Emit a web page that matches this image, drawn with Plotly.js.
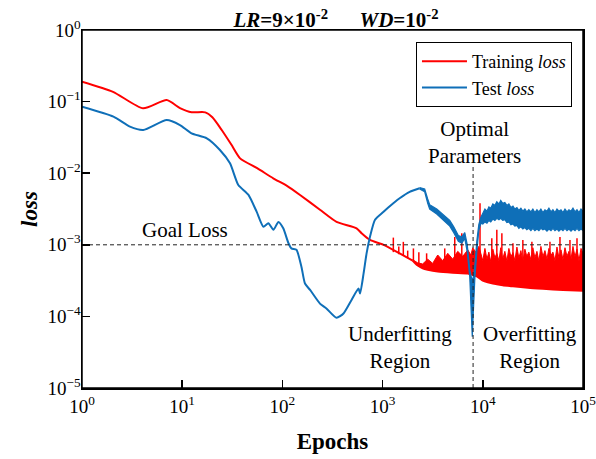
<!DOCTYPE html>
<html>
<head>
<meta charset="utf-8">
<script src="https://cdn.plot.ly/plotly-3.0.1.min.js"></script>
<style>html,body{margin:0;padding:0;background:#fff;}</style>
</head>
<body>
<div id="chart" style="width:596px;height:459px;"></div>
<script>
// ---- Training loss: smooth early part ----
const trainEpochs = [1, 2.04, 4.07, 7.0, 9.5, 12.4, 17, 20, 24.8, 30.9, 37.8, 56, 81, 112, 150, 237, 347, 550, 617, 748, 1023, 1479, 1995];
const trainLoss = [0.190, 0.137, 0.0805, 0.105, 0.0813, 0.0710, 0.0708, 0.0603, 0.0401, 0.0251, 0.0161, 0.01175, 0.00849, 0.00661, 0.00497, 0.00309, 0.00209, 0.00170, 0.00145, 0.00117, 0.00100, 0.000759, 0.000603];

// ---- Training loss: oscillating band (lower floor and upper edge) ----
const trainFloorEpochs = [1995, 2240, 2510, 2820, 3550, 5010, 7080, 7940, 8710, 9330, 10000, 11200, 12600, 15800, 20000, 28200, 39800, 63100, 100000];
const trainFloorLoss = [6.03e-4, 5.13e-4, 4.68e-4, 4.47e-4, 4.22e-4, 4.07e-4, 3.98e-4, 3.80e-4, 3.63e-4, 3.39e-4, 3.16e-4, 2.99e-4, 2.88e-4, 2.72e-4, 2.63e-4, 2.51e-4, 2.43e-4, 2.34e-4, 2.29e-4];

const trainCeilEarlyEpochs = [1995, 2240, 2510, 2820, 3160, 3550, 3980, 4470, 5010, 5620, 6310, 7080, 7590, 7940, 8510, 9120, 9550];
const trainCeilEarlyLoss = [6.2e-4, 5.6e-4, 5.4e-4, 6.3e-4, 5.5e-4, 7.2e-4, 6.0e-4, 7.6e-4, 6.3e-4, 8.1e-4, 6.9e-4, 8.5e-4, 7.2e-4, 9.1e-4, 7.9e-4, 9.5e-4, 7.6e-4];

// late epochs shared by both late-stage bands
const lateEpochs = [10000, 10500, 11000, 11500, 12000, 12600, 13200, 13800, 14500, 15100, 15800, 16600, 17400, 18200, 19100, 20000, 20900, 21900, 22900, 24000, 25100, 26300, 27500, 28800, 30200, 31600, 33100, 34700, 36300, 38000, 39800, 41700, 43700, 45700, 47900, 50100, 52500, 55000, 57500, 60300, 63100, 66100, 69200, 72400, 75900, 79400, 83200, 87100, 91200, 95500, 100000];

const trainCeilLateLoss = [6.0e-4, 8.9e-4, 6.3e-4, 7.9e-4, 5.8e-4, 8.7e-4, 6.6e-4, 7.6e-4, 6.0e-4, 9.1e-4, 6.3e-4, 8.1e-4, 5.9e-4, 8.9e-4, 6.8e-4, 7.8e-4, 6.0e-4, 9.3e-4, 6.5e-4, 8.3e-4, 5.8e-4, 8.7e-4, 6.9e-4, 7.9e-4, 6.2e-4, 9.1e-4, 6.6e-4, 8.1e-4, 5.9e-4, 9.5e-4, 6.8e-4, 8.3e-4, 6.3e-4, 8.9e-4, 7.1e-4, 7.9e-4, 6.0e-4, 9.3e-4, 6.6e-4, 8.5e-4, 6.2e-4, 9.1e-4, 6.9e-4, 8.1e-4, 6.3e-4, 9.5e-4, 6.8e-4, 8.7e-4, 6.0e-4, 8.9e-4, 7.6e-4];

// isolated training-loss spikes
const spikeEpochs = [1280, 1450, 1610, 1780, 2030, 2300, 2750, 4170, 5250, 6170, 9380, 12300, 13800, 15500, 20000, 25100, 30900, 46800, 58900, 74100, 87100];
const spikeBase = [7.9e-4, 7.4e-4, 7.0e-4, 6.5e-4, 5.9e-4, 5.0e-4, 4.5e-4, 4.1e-4, 4.05e-4, 4.0e-4, 3.4e-4, 2.9e-4, 2.85e-4, 2.8e-4, 2.65e-4, 2.6e-4, 2.5e-4, 2.4e-4, 2.4e-4, 2.35e-4, 2.3e-4];
const spikeTop = [1.26e-3, 9.5e-4, 1.10e-3, 8.3e-4, 8.9e-4, 7.9e-4, 7.6e-4, 8.9e-4, 1.29e-3, 1.45e-3, 3.8e-3, 1.23e-3, 1.62e-3, 1.45e-3, 1.05e-3, 1.17e-3, 1.10e-3, 1.10e-3, 1.29e-3, 1.17e-3, 1.23e-3];

// ---- Test loss: smooth early part ----
const testEpochs = [1, 2.06, 3.01, 4.09, 7.0, 9.5, 12.4, 17.6, 23.8, 30.0, 36.3, 45.7, 55.3, 64.6, 72.4, 81.3, 91.2, 102, 115, 123, 138, 155, 168, 189, 237, 275, 347, 407, 490, 575, 596, 646, 692, 748, 840, 1016, 1279, 1479, 1862, 2340];
const testLoss = [0.0849, 0.0617, 0.0447, 0.0401, 0.0553, 0.0471, 0.0361, 0.0307, 0.0211, 0.01374, 0.00684, 0.00501, 0.00290, 0.00179, 0.00200, 0.00162, 0.00209, 0.00170, 0.00105, 0.000891, 0.000851, 0.000490, 0.000288, 0.000234, 0.000151, 0.000129, 0.0000955, 0.000110, 0.000170, 0.000245, 0.000209, 0.000398, 0.000759, 0.00129, 0.00224, 0.00288, 0.00380, 0.00447, 0.00550, 0.00617];

// ---- Test loss: oscillating band ----
const testBandEarlyEpochs = [2340, 2630, 2820, 2950, 3470, 4170, 4680, 5130, 5700, 6170, 6610, 7000, 7410, 7670, 7850, 8040, 8320, 8710, 9120, 9550];
const testHighEarly = [6.31e-3, 6.03e-3, 4.37e-3, 3.63e-3, 3.16e-3, 2.57e-3, 2.19e-3, 1.78e-3, 1.35e-3, 1.29e-3, 1.48e-3, 1.0e-3, 4.47e-4, 3.55e-4, 3.16e-4, 3.55e-4, 5.0e-4, 1.12e-3, 1.91e-3, 2.40e-3];
const testLowEarly = [6.03e-3, 5.50e-3, 3.80e-3, 3.16e-3, 2.69e-3, 2.14e-3, 1.82e-3, 1.48e-3, 1.12e-3, 1.05e-3, 1.23e-3, 7.9e-4, 3.55e-4, 1.12e-4, 5.2e-5, 1.12e-4, 3.31e-4, 7.9e-4, 1.58e-3, 2.0e-3];
const testHighLate = [2.75e-3, 3.16e-3, 2.95e-3, 3.39e-3, 3.24e-3, 3.72e-3, 3.55e-3, 3.98e-3, 3.72e-3, 4.17e-3, 3.80e-3, 3.89e-3, 3.55e-3, 3.72e-3, 3.31e-3, 3.47e-3, 3.16e-3, 3.31e-3, 3.02e-3, 3.24e-3, 2.95e-3, 3.16e-3, 2.88e-3, 3.09e-3, 2.88e-3, 3.16e-3, 2.82e-3, 3.09e-3, 2.88e-3, 3.16e-3, 2.82e-3, 3.09e-3, 2.95e-3, 3.24e-3, 2.88e-3, 3.09e-3, 2.82e-3, 3.16e-3, 2.95e-3, 3.09e-3, 2.82e-3, 3.16e-3, 2.88e-3, 3.09e-3, 2.95e-3, 3.24e-3, 2.88e-3, 3.09e-3, 2.82e-3, 3.16e-3, 2.95e-3];
const testLowLate = [1.95e-3, 2.09e-3, 2.00e-3, 2.19e-3, 2.09e-3, 2.29e-3, 2.19e-3, 2.34e-3, 2.24e-3, 2.34e-3, 2.19e-3, 2.24e-3, 2.04e-3, 2.09e-3, 1.91e-3, 1.95e-3, 1.82e-3, 1.86e-3, 1.70e-3, 1.78e-3, 1.66e-3, 1.74e-3, 1.62e-3, 1.70e-3, 1.58e-3, 1.70e-3, 1.58e-3, 1.66e-3, 1.58e-3, 1.70e-3, 1.62e-3, 1.66e-3, 1.55e-3, 1.66e-3, 1.58e-3, 1.70e-3, 1.58e-3, 1.66e-3, 1.55e-3, 1.66e-3, 1.58e-3, 1.70e-3, 1.58e-3, 1.66e-3, 1.55e-3, 1.66e-3, 1.58e-3, 1.70e-3, 1.58e-3, 1.66e-3, 1.58e-3];

// ---- reference markers ----
const goalLoss = 1e-3;
const optimalEpoch = 8000;
const optimalLineSpan = [1e-5, 0.013];

// ---- tick labels ----
const xTickVals = [1, 10, 100, 1000, 10000, 100000];
const xTickText = ['10<sup>0</sup>', '10<sup>1</sup>', '10<sup>2</sup>', '10<sup>3</sup>', '10<sup>4</sup>', '10<sup>5</sup>'];
const yTickVals = [1e-5, 1e-4, 1e-3, 1e-2, 1e-1, 1];
const yTickText = ['10<sup>\u22125</sup>', '10<sup>\u22124</sup>', '10<sup>\u22123</sup>', '10<sup>\u22122</sup>', '10<sup>\u22121</sup>', '10<sup>0</sup>'];

const RED = '#ff0000';
const BLUE = '#0f6fb8';
const SERIF = 'Liberation Serif, Times New Roman, serif';

const spikeX = [], spikeY = [];
spikeEpochs.forEach((e, i) => {
  spikeX.push(e, e, null);
  spikeY.push(spikeBase[i], spikeTop[i], null);
});

const traces = [
  // training loss
  {x: trainEpochs, y: trainLoss, mode: 'lines', name: 'Training <i>loss</i>',
   line: {color: RED, width: 2, shape: 'spline', smoothing: 0.6}},
  {x: trainFloorEpochs, y: trainFloorLoss, mode: 'lines', showlegend: false, hoverinfo: 'skip',
   line: {color: RED, width: 2, shape: 'spline', smoothing: 0.6}},
  {x: trainCeilEarlyEpochs.concat(lateEpochs), y: trainCeilEarlyLoss.concat(trainCeilLateLoss),
   mode: 'lines', fill: 'tonexty', fillcolor: RED, showlegend: false, hoverinfo: 'skip',
   line: {color: RED, width: 1}},
  {x: spikeX, y: spikeY, mode: 'lines', showlegend: false, hoverinfo: 'skip',
   line: {color: RED, width: 1.5}},

  // test loss
  {x: testEpochs, y: testLoss, mode: 'lines', name: 'Test <i>loss</i>',
   line: {color: BLUE, width: 2, shape: 'spline', smoothing: 0.6}},
  {x: testBandEarlyEpochs.concat(lateEpochs), y: testLowEarly.concat(testLowLate),
   mode: 'lines', showlegend: false, hoverinfo: 'skip', line: {color: BLUE, width: 1.2}},
  {x: testBandEarlyEpochs.concat(lateEpochs), y: testHighEarly.concat(testHighLate),
   mode: 'lines', fill: 'tonexty', fillcolor: BLUE, showlegend: false, hoverinfo: 'skip',
   line: {color: BLUE, width: 1.2}},

  // goal-loss and optimum guide lines
  {x: [xTickVals[0], xTickVals[xTickVals.length - 1]], y: [goalLoss, goalLoss], mode: 'lines',
   line: {color: '#222', width: 1, dash: '4px,3px'}, showlegend: false, hoverinfo: 'skip'},
  {x: [optimalEpoch, optimalEpoch], y: optimalLineSpan, mode: 'lines',
   line: {color: '#222', width: 1, dash: '4px,3px'}, showlegend: false, hoverinfo: 'skip'}
];

const axisCommon = {
  type: 'log', showgrid: false, zeroline: false,
  showline: true, linecolor: '#000', linewidth: 1.5, mirror: true,
  ticks: 'inside', ticklen: 8, tickwidth: 1.5, tickcolor: '#000',
  tickmode: 'array', ticklabeloverflow: 'allow',
  tickfont: {family: SERIF, size: 19, color: '#000'}
};

const noteFont = {family: SERIF, size: 21, color: '#000'};
const note = (text, x, y) => ({text, xref: 'paper', yref: 'paper', x, y,
  xanchor: 'center', yanchor: 'middle', showarrow: false, font: noteFont});

const layout = {
  width: 596, height: 459,
  margin: {l: 82, r: 13, t: 30, b: 71},
  paper_bgcolor: '#fff', plot_bgcolor: '#fff',
  font: {family: SERIF, color: '#000'},
  title: {
    text: '<b><i>LR</i>=9×10<sup>-2</sup>&nbsp;&nbsp;&nbsp;&nbsp;&nbsp;&nbsp;<i>WD</i>=10<sup>-2</sup></b>',
    font: {family: SERIF, size: 21, color: '#000'},
    xref: 'container', x: 336 / 596, xanchor: 'center',
    yref: 'container', y: 1 - 20 / 459, yanchor: 'middle'
  },
  xaxis: Object.assign({}, axisCommon, {
    range: [0, 5], tickvals: xTickVals, ticktext: xTickText, ticklabelstandoff: 1,
    title: {text: '<b>Epochs</b>', font: {family: SERIF, size: 23, color: '#000'}, standoff: 16}
  }),
  yaxis: Object.assign({}, axisCommon, {
    range: [-5, 0], tickvals: yTickVals, ticktext: yTickText, ticklabelstandoff: -4,
    title: {text: '<b><i>loss</i></b>', font: {family: SERIF, size: 23, color: '#000'}, standoff: 3}
  }),
  legend: {
    x: 0.978, xanchor: 'right', y: 0.9665, yanchor: 'top', traceorder: 'normal',
    bgcolor: '#fff', bordercolor: '#000', borderwidth: 1, itemwidth: 45,
    font: {family: SERIF, size: 18, color: '#000'}
  },
  shapes: [
    {type: 'rect', xref: 'paper', yref: 'paper', x0: 0, x1: 1, y0: 0, y1: 1,
     line: {color: '#000', width: 1.5}, layer: 'above'}
  ],
  annotations: [
    note('Goal Loss', 0.2056, 0.4413),
    note('Optimal<br>Parameters', 0.7844, 0.6844),
    note('Underfitting<br>Region', 0.6357, 0.1145),
    note('Overfitting<br>Region', 0.8952, 0.1145)
  ],
  showlegend: true
};

Plotly.newPlot('chart', traces, layout, {displayModeBar: false, staticPlot: true});
</script>
</body>
</html>
